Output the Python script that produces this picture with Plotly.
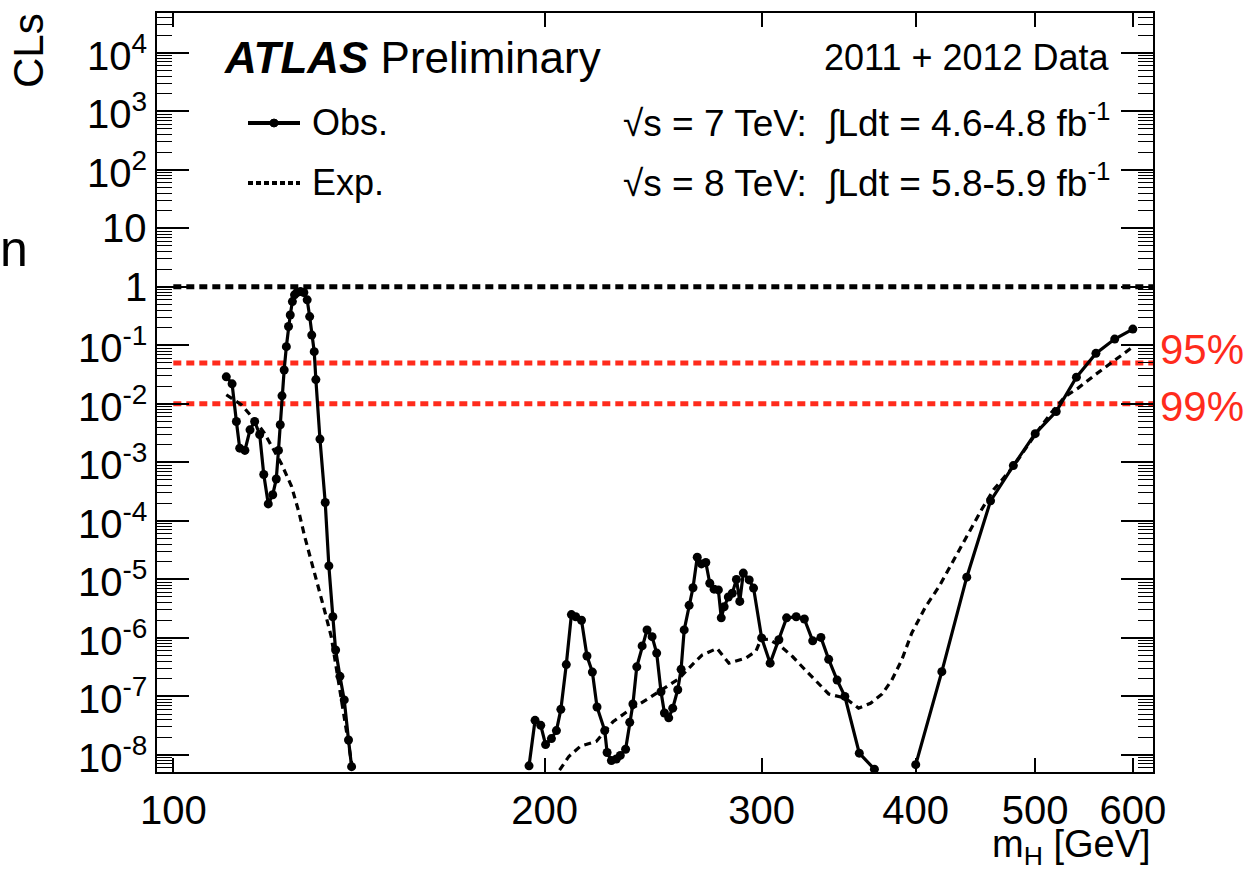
import math
import plotly.graph_objects as go

# ---------------- data ----------------
obs_mass_low = [110.4, 111.6, 112.5, 113.2, 114.3, 115.4, 116.4, 117.5, 118.4, 119.4,
                120.4, 121.2, 121.7, 122.1, 122.5, 123.0, 123.5, 124.0, 124.4, 124.9,
                125.4, 126.0, 126.8, 127.6, 128.4, 129.0, 129.5, 130.1, 130.5, 131.5,
                132.8, 133.7, 134.7, 135.4, 136.5, 137.6, 138.7, 139.5]
obs_cls_low = [0.029, 0.022, 0.005, 0.00175, 0.0016, 0.0036, 0.005, 0.003, 6.2e-4, 1.95e-4,
               2.8e-4, 5.2e-4, 1.6e-3, 4.4e-3, 0.0137, 0.038, 0.095, 0.21, 0.33, 0.56,
               0.73, 0.80, 0.83, 0.80, 0.60, 0.31, 0.15, 0.078, 0.026, 2.5e-3,
               2.06e-4, 1.7e-5, 2.3e-6, 6.2e-7, 2.2e-7, 8.7e-8, 1.8e-8, 6.3e-9]

obs_mass_mid = [194.3, 196.5, 198.6, 200.4, 202.6, 204.5, 206.2, 208.3, 210.3, 212.0,
                214.3, 216.5, 218.7, 220.6, 223.8, 224.8, 226.6, 228.7, 230.4, 232.7,
                234.5, 235.9, 237.6, 240.0, 242.2, 244.5, 246.6, 248.6, 250.2, 252.2,
                254.1, 256.5, 258.1, 259.6, 262.0, 263.9, 266.0, 268.1, 270.3, 272.3,
                274.5, 276.7, 278.2, 279.7, 281.9, 284.0, 286.2, 288.0, 289.9, 293.1,
                295.5, 300.0, 304.8, 309.8, 314.3, 320.0, 324.9, 330.0, 335.1, 340.0,
                345.4, 350.4, 360.0, 370.3]
obs_cls_mid = [6.5e-9, 3.9e-8, 3.2e-8, 1.5e-8, 1.9e-8, 2.6e-8, 6.0e-8, 3.5e-7, 2.5e-6, 2.3e-6,
               2.0e-6, 4.9e-7, 2.6e-7, 6.6e-8, 2.6e-8, 1.1e-8, 8.0e-9, 8.5e-9, 9.8e-9, 1.25e-8,
               3.6e-8, 7.4e-8, 3.2e-7, 7.3e-7, 1.37e-6, 1.05e-6, 5.5e-7, 1.2e-7, 5.2e-8, 4.3e-8,
               6.3e-8, 1.3e-7, 2.9e-7, 1.37e-6, 3.6e-6, 7.2e-6, 2.4e-5, 1.84e-5, 1.94e-5, 8.6e-6,
               6.8e-6, 6.6e-6, 2.2e-6, 3.4e-6, 5.0e-6, 5.8e-6, 1.0e-5, 4.2e-6, 1.28e-5, 9.8e-6,
               7.1e-6, 1.0e-6, 3.7e-7, 9.3e-7, 2.2e-6, 2.3e-6, 2.1e-6, 8.9e-7, 1.02e-6, 4.3e-7,
               1.9e-7, 1.0e-7, 1.07e-8, 5.7e-9]

obs_mass_high = [400, 420, 440, 460, 480, 500, 520, 540, 560, 580, 600]
obs_cls_high = [6.8e-9, 2.65e-7, 1.09e-5, 2.2e-4, 8.8e-4, 3.1e-3, 7.4e-3, 0.0286, 0.073, 0.128, 0.19]

exp_mass_low = [110.4, 113.6, 116.4, 118.5, 120.7, 122.3, 124.7, 126.5, 127.8, 130.1,
                132.6, 134.3, 135.5, 137.0, 138.5, 139.8]
exp_cls_low = [0.0143, 0.0096, 0.0053, 0.0032, 0.0016, 9.7e-4, 3.9e-4, 1.35e-4, 5.4e-5, 1.4e-5,
               3.0e-6, 1.05e-6, 3.2e-7, 8.0e-8, 2.0e-8, 5.5e-9]

exp_mass_high = [205.7, 209.3, 213.8, 220.3, 227.3, 234.5, 241.8, 249.2, 257.0, 263.6,
                 268.4, 276.0, 278.6, 282.2, 291.2, 296.8, 299.5, 303.9, 310.6, 317.8,
                 324.6, 331.4, 340.0, 350.8, 359.5, 367.6, 375.7, 382.5, 389.7, 397.0,
                 407.4, 417.9, 431.0, 441.6, 452.3, 462.6, 480.0, 500.0, 515.0, 528.6,
                 541.7, 558.7, 576.5, 598.0]
exp_cls_high = [5.5e-9, 9.4e-9, 1.4e-8, 1.7e-8, 3.7e-8, 5.9e-8, 8.7e-8, 1.3e-7, 2.0e-7, 3.5e-7,
                5.1e-7, 6.6e-7, 5.1e-7, 3.7e-7, 4.5e-7, 5.9e-7, 9.3e-7, 9.5e-7, 7.3e-7, 4.8e-7,
                3.0e-7, 1.9e-7, 1.1e-7, 9.3e-8, 6.3e-8, 7.6e-8, 1.1e-7, 1.9e-7, 4.2e-7, 1.2e-6,
                3.4e-6, 7.6e-6, 2.45e-5, 6.2e-5, 1.55e-4, 3.4e-4, 8.5e-4, 3.0e-3, 7.0e-3, 0.0133,
                0.0186, 0.031, 0.05, 0.0895]

cl_levels = [1.0, 0.05, 0.01]
cl_level_labels = ["", "95%", "99%"]
level_line_start = 100

x_range_vals = [97.0, 623.0]
y_range_vals = [5.1e-9, 4.8e4]

x_tickvals = [100, 200, 300, 400, 500, 600]
x_ticktext = ["100", "200", "300", "400", "500", "600"]
y_tickvals = [1e4, 1e3, 1e2, 1e1, 1e0, 1e-1, 1e-2, 1e-3, 1e-4, 1e-5, 1e-6, 1e-7, 1e-8]
y_ticktext = ["10<sup>4</sup>", "10<sup>3</sup>", "10<sup>2</sup>", "10", "1",
              "10<sup>-1</sup>", "10<sup>-2</sup>", "10<sup>-3</sup>", "10<sup>-4</sup>",
              "10<sup>-5</sup>", "10<sup>-6</sup>", "10<sup>-7</sup>", "10<sup>-8</sup>"]
y_minor_digits = [2, 3, 4, 5, 6, 7, 8, 9]

# ---------------- styling ----------------
FONT = "Liberation Sans, Arial, Helvetica, sans-serif"
RED = "#ff2b1c"
level_colors = ["black", RED, RED]

W, H = 1254, 873
ML, MR, MT, MB = 157, 101, 13, 101
PW, PH = W - ML - MR, H - MT - MB


def px(xp):
    return (xp - ML) / PW


def py(yp):
    return (H - MB - yp) / PH


# minor tick positions (2..9 x each decade inside the axis range)
y_minor_vals = [d * 10.0 ** e for e in range(-9, 5) for d in y_minor_digits
                if y_range_vals[0] <= d * 10.0 ** e <= y_range_vals[1]]
y_log_range = [math.log10(v) for v in y_range_vals]

fig = go.Figure()

# CL reference lines (the first one is attached to the minor-tick overlay axis,
# which shares the exact same log range)
for i, (lvl, col) in enumerate(zip(cl_levels, level_colors)):
    fig.add_trace(go.Scatter(
        x=[level_line_start, x_range_vals[1]], y=[lvl, lvl], mode="lines",
        line=dict(color=col, width=5, dash="8px,5px"),
        yaxis="y2" if i == 0 else "y",
        hoverinfo="skip", showlegend=False))

# expected
exp_x = exp_mass_low + [None] + exp_mass_high
exp_y = exp_cls_low + [None] + exp_cls_high
fig.add_trace(go.Scatter(
    x=exp_x, y=exp_y, mode="lines", name="Exp.", connectgaps=False,
    line=dict(color="black", width=3.2, dash="7px,5px"), showlegend=False))

# observed
obs_x = obs_mass_low + [None] + obs_mass_mid + [None] + obs_mass_high
obs_y = obs_cls_low + [None] + obs_cls_mid + [None] + obs_cls_high
fig.add_trace(go.Scatter(
    x=obs_x, y=obs_y, mode="lines+markers", name="Obs.", connectgaps=False,
    line=dict(color="black", width=3.2), marker=dict(color="black", size=9),
    showlegend=False))

fig.update_layout(
    width=W, height=H,
    margin=dict(l=ML, r=MR, t=MT, b=MB),
    paper_bgcolor="white", plot_bgcolor="white",
    font=dict(family=FONT, color="black", size=36),
    showlegend=False,
    xaxis=dict(type="log", range=[math.log10(v) for v in x_range_vals],
               tickmode="array", tickvals=x_tickvals, ticktext=x_ticktext,
               ticks="inside", ticklen=14, tickwidth=1.5, tickcolor="black",
               ticklabelstandoff=2, tickfont=dict(size=40, family=FONT, color="black"),
               showline=True, linecolor="black", linewidth=2, mirror="ticks",
               showgrid=False, zeroline=False),
    yaxis=dict(type="log", range=y_log_range,
               tickmode="array", tickvals=y_tickvals, showticklabels=False,
               ticks="inside", ticklen=32, tickwidth=1.5, tickcolor="black",
               showline=True, linecolor="black", linewidth=2, mirror="ticks",
               showgrid=False, zeroline=False),
    yaxis2=dict(type="log", range=y_log_range, overlaying="y", side="left",
                tickmode="array", tickvals=y_minor_vals, showticklabels=False,
                ticks="inside", ticklen=15, tickwidth=1.3, tickcolor="black",
                showline=True, linecolor="black", linewidth=2, mirror="ticks",
                showgrid=False, zeroline=False),
)

ann = []
# y tick labels, right-aligned against the axis
for v, t in zip(y_tickvals, y_ticktext):
    ann.append(dict(x=px(149), y=math.log10(v), xref="paper", yref="y",
                    xanchor="right", yanchor="middle", text=t, showarrow=False,
                    font=dict(size=40)))
ann.append(dict(x=px(222), y=py(58), xref="paper", yref="paper", xanchor="left", yanchor="middle",
                text="<b><i>ATLAS</i></b> Preliminary", showarrow=False,
                font=dict(size=44, family=FONT, color="black")))
ann.append(dict(x=px(1112), y=py(58), xref="paper", yref="paper", xanchor="right", yanchor="middle",
                text="2011 + 2012 Data", showarrow=False, font=dict(size=36)))
ann.append(dict(x=px(1112), y=py(120), xref="paper", yref="paper", xanchor="right", yanchor="middle",
                text="√s = 7 TeV:  ∫Ldt = 4.6-4.8 fb<sup>-1</sup>", showarrow=False, font=dict(size=37)))
ann.append(dict(x=px(1112), y=py(180), xref="paper", yref="paper", xanchor="right", yanchor="middle",
                text="√s = 8 TeV:  ∫Ldt = 5.8-5.9 fb<sup>-1</sup>", showarrow=False, font=dict(size=37)))
ann.append(dict(x=px(310), y=py(123), xref="paper", yref="paper", xanchor="left", yanchor="middle",
                text="Obs.", showarrow=False, font=dict(size=36)))
ann.append(dict(x=px(310), y=py(183), xref="paper", yref="paper", xanchor="left", yanchor="middle",
                text="Exp.", showarrow=False, font=dict(size=36)))
ann.append(dict(x=px(29), y=py(51), xref="paper", yref="paper", xanchor="center", yanchor="middle",
                text="CLs", textangle=-90, showarrow=False, font=dict(size=42)))
ann.append(dict(x=px(14), y=py(249), xref="paper", yref="paper", xanchor="center", yanchor="middle",
                text="n", showarrow=False, font=dict(size=50)))
ann.append(dict(x=px(1153), y=py(847), xref="paper", yref="paper", xanchor="right", yanchor="middle",
                text="m<sub>H</sub> [GeV]", showarrow=False, font=dict(size=38)))
label_y_px = {"95%": 350, "99%": 406}
for lab, col in zip(cl_level_labels, level_colors):
    if lab:
        ann.append(dict(x=px(1158), y=py(label_y_px[lab]), xref="paper", yref="paper",
                        xanchor="left", yanchor="middle", text=lab, showarrow=False,
                        font=dict(size=42, color=col)))
fig.update_layout(annotations=ann)

# manual legend samples
shapes = [
    dict(type="line", xref="paper", yref="paper", x0=px(248), x1=px(300), y0=py(123), y1=py(123),
         line=dict(color="black", width=4)),
    dict(type="circle", xref="paper", yref="paper", xsizemode="pixel", ysizemode="pixel",
         xanchor=px(274), yanchor=py(123), x0=-4, x1=4, y0=-4, y1=4,
         fillcolor="black", line=dict(color="black", width=1)),
    dict(type="line", xref="paper", yref="paper", x0=px(248), x1=px(300), y0=py(183), y1=py(183),
         line=dict(color="black", width=4, dash="5px,3px")),
]
fig.update_layout(shapes=shapes)

fig.write_html("out.html", config={"displayModeBar": False},
               post_script="document.body.style.margin='0';")
